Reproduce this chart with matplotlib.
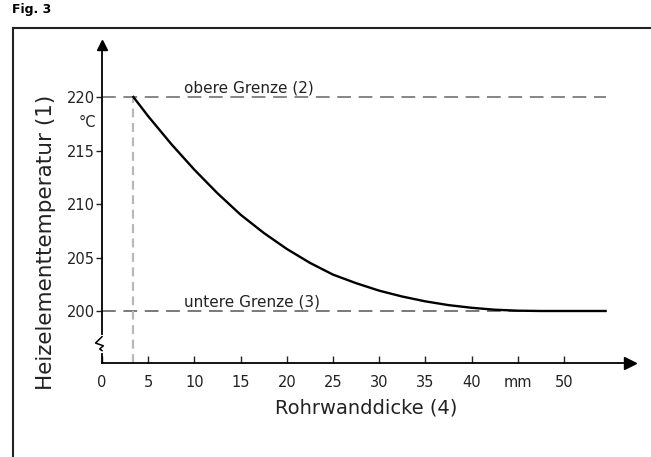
from matplotlib import pyplot as plt
from matplotlib.lines import Line2D

# wall thickness (mm) vs heating element temperature (degC)
wall_mm = [3.4, 5, 7.5, 10, 12.5, 15, 17.5, 20, 22.5, 25, 27.5, 30, 32.5, 35, 37.5, 40, 42.5, 45, 47.5, 54.5]
temp_c = [220, 218.2, 215.6, 213.2, 211.0, 209.0, 207.3, 205.8, 204.5, 203.4, 202.6, 201.9,
          201.35, 200.9, 200.55, 200.3, 200.12, 200.03, 200.0, 200.0]

upper_limit = 220
lower_limit = 200
min_wall = 3.4
limit_end = 54.5

xticks = [0, 5, 10, 15, 20, 25, 30, 35, 40, 45, 50]
xticklabels = ["0", "5", "10", "15", "20", "25", "30", "35", "40", "mm", "50"]
yticks = [200, 205, 210, 215, 220]

fig = plt.figure(figsize=(6.51, 4.57), dpi=100)
ax = fig.add_axes([0.1567, 0.2057, 0.811, 0.6958])
ax.set_xlim(0, 57.14)
ax.set_ylim(195.14, 224.86)

for s in ["top", "right"]:
    ax.spines[s].set_visible(False)
for s in ["left", "bottom"]:
    ax.spines[s].set_linewidth(1.3)

# arrow heads
ax.plot(1, 195.14, ">k", markersize=9, transform=ax.get_yaxis_transform(), clip_on=False)
ax.plot(0, 1, "^k", markersize=7, transform=ax.get_xaxis_transform(), clip_on=False)

# y axis break
ax.plot([0, 0], [196.3, 197.6], color="white", lw=3, clip_on=False, zorder=5)
ax.plot([0, -0.7, 0.15, -0.25, 0], [197.6, 197.0, 196.75, 196.45, 196.3],
        color="black", lw=1.1, clip_on=False, zorder=6)

# limits
ax.plot([0, limit_end], [upper_limit, upper_limit], color="#666666", lw=1.1, dashes=(9, 5))
ax.plot([0, limit_end], [lower_limit, lower_limit], color="#555555", lw=1.1, dashes=(9, 5))
ax.plot([min_wall, min_wall], [195.14, upper_limit], color="#b8b8b8", lw=1.6, dashes=(4, 2.5))

ax.plot(wall_mm, temp_c, color="black", lw=1.7)

ax.text(8.9, 220.85, "obere Grenze (2)", fontsize=11, va="center", ha="left", color="#222222")
ax.text(8.9, 200.85, "untere Grenze (3)", fontsize=11, va="center", ha="left", color="#222222")
ax.text(-1.6, 217.6, "°C", fontsize=10.5, va="center", ha="center", color="#222222")

ax.set_xticks(xticks)
ax.set_xticklabels(xticklabels)
ax.set_yticks(yticks)
ax.tick_params(axis="x", direction="in", length=5, width=1, pad=9, labelsize=10.5, colors="#222222")
ax.tick_params(axis="y", direction="out", length=4, width=1, pad=1, labelsize=10.5, colors="#222222")

ax.set_xlabel("Rohrwanddicke (4)", fontsize=14, labelpad=6, color="#222222")
ax.set_ylabel("Heizelementtemperatur (1)", fontsize=15.5, color="#222222")
ax.yaxis.set_label_coords(-0.087, 0.38)

# frame of the figure box
fig.add_artist(Line2D([13 / 651, 1], [1 - 28 / 457, 1 - 28 / 457], color="#222222", lw=1.5))
fig.add_artist(Line2D([13 / 651, 13 / 651], [0, 1 - 28 / 457], color="#222222", lw=1.5))
fig.text(12 / 651, 1 - 13 / 457, "Fig. 3", fontsize=9, fontweight="bold", va="baseline")

plt.savefig("out.png", dpi=100)
